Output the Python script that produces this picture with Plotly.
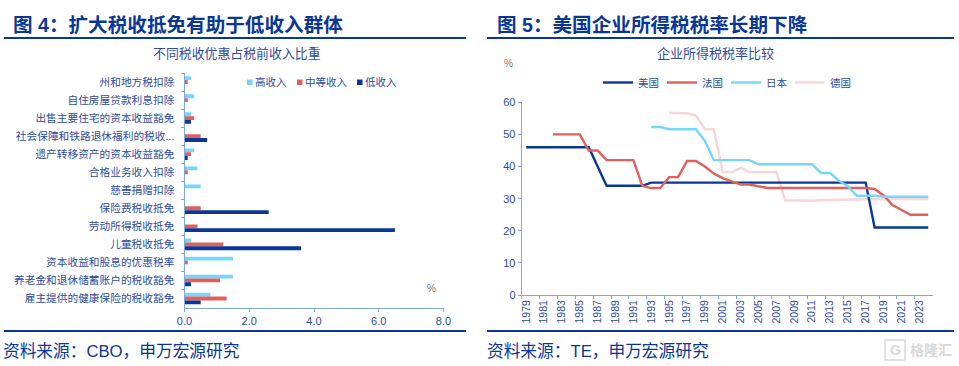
import plotly.graph_objects as go

W, H = 959, 366
FONT = "Liberation Sans, Noto Sans CJK SC, sans-serif"
NAVY = "#0A3797"
RED = "#E0605A"
SKY = "#74D6FF"
PINK = "#F9D6D3"
AXIS = "#7FA8DF"
TEXT = "#2F4C9E"

categories = ["州和地方税扣除", "自住房屋贷款利息扣除", "出售主要住宅的资本收益豁免",
              "社会保障和铁路退休福利的税收...", "遗产转移资产的资本收益豁免", "合格业务收入扣除",
              "慈善捐赠扣除", "保险费税收抵免", "劳动所得税收抵免", "儿童税收抵免",
              "资本收益和股息的优惠税率", "养老金和退休储蓄账户的税收豁免", "雇主提供的健康保险的税收豁免"]
high_income = [0.2, 0.3, 0.2, 0.0, 0.3, 0.4, 0.5, 0.0, 0.0, 0.2, 1.5, 1.5, 0.8]
mid_income = [0.1, 0.1, 0.3, 0.5, 0.2, 0.1, 0.0, 0.5, 0.4, 1.2, 0.1, 1.1, 1.3]
low_income = [0.0, 0.0, 0.2, 0.7, 0.1, 0.0, 0.0, 2.6, 6.5, 3.6, 0.0, 0.2, 0.5]

years = [str(y) for y in range(1979, 2025)]
usa = [46, 46, 46, 46, 46, 46, 46, 46, 40, 34, 34, 34, 34, 34] + [35] * 25 + [21] * 7
france = [None, None, None, 50, 50, 50, 50, 45, 45, 42, 42, 42, 42, 34, 33.3, 33.3, 36.7, 36.7,
          41.7, 41.7, 40, 37.8, 36.4, 35.4, 34.4, 34.4, 33.8, 33.3, 33.3, 33.3, 33.3, 33.3, 33.3,
          33.3, 33.3, 33.3, 33.3, 33.3, 33.3, 33, 31, 28, 26.5, 25, 25, 25]
japan = [None] * 14 + [52.3, 52.3, 51.6, 51.6, 51.6, 51.6, 48, 42, 42, 42, 42, 42, 40.7, 40.7, 40.7,
                       40.7, 40.7, 40.7, 40.7, 38, 38, 35.6, 33.9, 30.9, 30.9, 30.9, 30.6, 30.6,
                       30.6, 30.6, 30.6, 30.6]
germany = [None] * 16 + [56.7, 56.6, 56.6, 55.9, 51.6, 51.6, 38.3, 38.3, 39.6, 38.3, 38.3, 38.3, 38.3,
                         29.5, 29.4, 29.4, 29.4, 29.5, 29.6, 29.7, 29.7, 29.7, 29.8, 29.8, 29.9,
                         29.9, 29.9, 29.9, 29.9, 29.9]


def fx(a, b):
    return [a / W, b / W]


def fy(top, bottom):
    return [1 - bottom / H, 1 - top / H]


fig = go.Figure()
for name, vals, col in [("高收入", high_income, SKY), ("中等收入", mid_income, RED), ("低收入", low_income, NAVY)]:
    fig.add_bar(y=categories, x=vals, name=name, orientation="h", marker_color=col,
                marker_line_width=0, xaxis="x", yaxis="y", showlegend=False)

for name, vals, col, rank in [("德国", germany, PINK, 4), ("美国", usa, NAVY, 1), ("法国", france, RED, 2), ("日本", japan, SKY, 3)]:
    fig.add_scatter(x=years, y=vals, name=name, mode="lines", line=dict(color=col, width=2.4),
                    xaxis="x2", yaxis="y2", legendrank=rank, connectgaps=False)

fig.update_layout(
    template="none",
    width=W, height=H, autosize=False, margin=dict(l=0, r=0, t=0, b=0, pad=0),
    paper_bgcolor="white", plot_bgcolor="white", font=dict(family=FONT, color=TEXT),
    barmode="group", bargap=0.36, bargroupgap=0,
    xaxis=dict(domain=fx(184.5, 443.5), range=[0, 8], dtick=2, tickformat=".1f", anchor="y",
               showgrid=False, zeroline=False, showline=True, linecolor=AXIS, linewidth=1,
               ticks="outside", ticklen=3, tickcolor=AXIS,
               tickfont=dict(family=FONT, size=11, color=TEXT), automargin=False),
    yaxis=dict(domain=fy(73, 307.5), type="category", autorange="reversed", anchor="x",
               showgrid=False, zeroline=False, showline=True, linecolor=AXIS, linewidth=1,
               ticks="outside", ticklen=3, tickcolor=AXIS, tickson="boundaries",
               tickfont=dict(family=FONT, size=10.7, color=TEXT), automargin=False, ticklabelstandoff=7),
    xaxis2=dict(domain=fx(521.7, 932.7), type="category", anchor="y2", dtick=2, tickangle=-90,
                range=[-0.5, 45.5],
                showgrid=False, zeroline=False, showline=True, linecolor=AXIS, linewidth=1,
                ticks="outside", ticklen=3, tickcolor=AXIS, tickson="boundaries",
                tickfont=dict(family=FONT, size=10.5, color=TEXT), automargin=False),
    yaxis2=dict(domain=fy(102.3, 295), range=[0, 60], dtick=10, anchor="x2", automargin=False,
                showgrid=False, zeroline=False, showline=True, linecolor=AXIS, linewidth=1,
                ticks="outside", ticklen=3, tickcolor=AXIS, tickfont=dict(family=FONT, size=11, color=TEXT)),
    legend=dict(orientation="h", x=598 / W, y=1 - 68 / H, xanchor="left", yanchor="top",
                font=dict(family=FONT, size=10.5, color=TEXT), bgcolor="rgba(0,0,0,0)",
                entrywidth=19, entrywidthmode="pixels", traceorder="normal", itemclick=False),
    showlegend=True,
)


def txt(x, y, s, size, color=TEXT, anchor="left", bold=False):
    fig.add_annotation(xref="paper", yref="paper", x=x / W, y=1 - y / H, text=f"<b>{s}</b>" if bold else s,
                       showarrow=False, xanchor=anchor, yanchor="middle",
                       font=dict(family=FONT, size=size, color=color), borderpad=0, borderwidth=0)


txt(13, 25, "图 4：扩大税收抵免有助于低收入群体", 19.6, NAVY, bold=True)
txt(497, 25, "图 5：美国企业所得税税率长期下降", 19.6, NAVY, bold=True)
txt(236.5, 54, "不同税收优惠占税前收入比重", 12.9, anchor="center")
txt(715, 53, "企业所得税税率比较", 13, anchor="center")
txt(431, 288, "%", 10, "#777777", anchor="center")
txt(508, 64, "%", 10, "#777777", anchor="center")
txt(3, 351, "资料来源：CBO，申万宏源研究", 16.7, NAVY)
txt(487, 351, "资料来源：TE，申万宏源研究", 16.7, NAVY)
txt(931, 350, "格隆汇", 14, "#D9D9D9", anchor="center", bold=True)
txt(895, 350, "G", 14, "#D9D9D9", anchor="center", bold=True)
fig.add_shape(type="rect", xref="paper", yref="paper", x0=885 / W, x1=905 / W, y0=1 - 360 / H, y1=1 - 340 / H,
              line=dict(color="#D9D9D9", width=1.5))

# bar-chart legend keys
for x, col, label in [(247, SKY, "高收入"), (297, RED, "中等收入"), (357, NAVY, "低收入")]:
    fig.add_shape(type="rect", xref="paper", yref="paper", x0=x / W, x1=(x + 5.5) / W,
                  y0=1 - 85 / H, y1=1 - 79.5 / H, fillcolor=col, line_width=0)
    txt(x + 7.5, 82.5, label, 10.5)

for x0, x1 in [(4, 466), (487, 954)]:
    for y in (38, 331):
        fig.add_shape(type="line", xref="paper", yref="paper", x0=x0 / W, x1=x1 / W, y0=1 - y / H, y1=1 - y / H,
                      line=dict(color=NAVY, width=2))

fig.write_html("out.html", config={"displayModeBar": False},
               post_script="document.body.style.margin='0';document.documentElement.style.overflow='hidden';")
